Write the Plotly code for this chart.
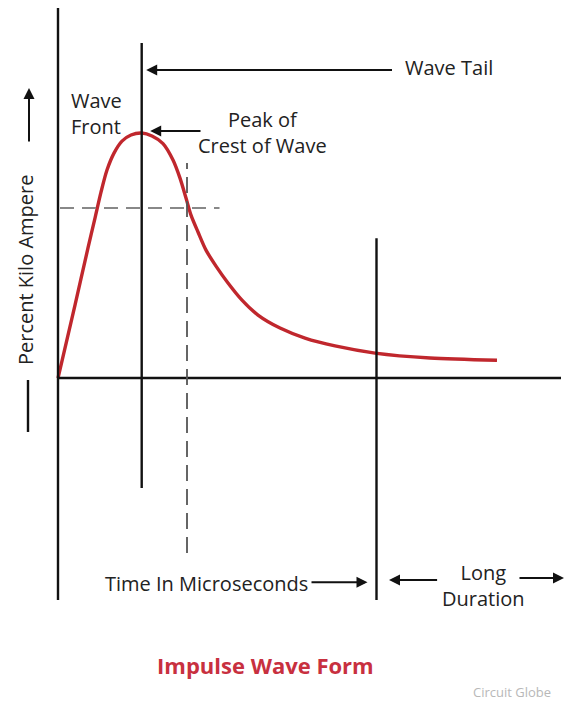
import plotly.graph_objects as go

# Impulse wave: time (arbitrary units) vs percent of peak current
time_pts = [0, 1.7, 3.0, 3.7, 4.3, 4.9, 5.6, 6.4, 7.3, 8.37, 9.4, 10.5, 11.5, 12.2,
            12.8, 13.3, 14.0, 14.8, 15.8, 17.0, 18.4, 20.0, 22.2, 24.7, 27.7, 31.7,
            37.2, 43.9]
percent_pts = [0, 29.8, 53.1, 65.3, 75.9, 84.9, 91.8, 96.7, 99.2, 100, 98.8, 95.7, 89.0,
               81.6, 73.5, 66.5, 59.6, 52.2, 45.7, 38.8, 31.8, 25.7, 20.4, 16.3, 13.1,
               10.2, 8.2, 7.3]

# Reference markers
t_front = 8.37      # wave front / peak time
t_half = 12.9       # dashed line on the tail
t_long = 31.85      # start of long duration
y_half = 69.4       # dashed level

RED = "#c0272d"
INK = "#111111"
FONT = "'Open Sans', Lato, sans-serif"

fig = go.Figure()

fig.add_trace(
    go.Scatter(
        x=time_pts,
        y=percent_pts,
        mode="lines",
        line=dict(color=RED, width=3.4, shape="spline", smoothing=0.8),
        showlegend=False,
        hoverinfo="skip",
    )
)

# axes and guide lines
solid = dict(color=INK, width=2.4)
fig.add_shape(type="line", x0=0, x1=0, y0=-90.6, y1=151.0, line=solid)
fig.add_shape(type="line", x0=0, x1=50.3, y0=0, y1=0, line=solid)
fig.add_shape(type="line", x0=t_front, x1=t_front, y0=-44.9, y1=136.7, line=solid)
fig.add_shape(type="line", x0=t_long, x1=t_long, y0=-90.6, y1=57.1, line=solid)
fig.add_shape(type="line", x0=t_half, x1=t_half, y0=-71.4, y1=87.8,
              line=dict(color="#555555", width=1.8, dash="16px,8px"))
fig.add_shape(type="line", x0=0.2, x1=16.15, y0=y_half, y1=y_half,
              line=dict(color="#888888", width=2, dash="14px,8px"))
fig.add_shape(type="line", x0=-3.0, x1=-3.0, y0=-22.0, y1=-0.8, line=solid)

# arrows: (head x, head y, tail x, tail y)
arrows = [
    (t_front + 0.45, 125.7, 33.55, 125.7),
    (t_front + 0.85, 100.8, 14.4, 100.8),
    (30.95, -83.3, 25.2, -83.3),
    (33.1, -82.4, 38.06, -82.4),
    (50.6, -81.6, 46.0, -81.6),
    (-2.9, 118.4, -2.9, 95.9),
]
for hx, hy, tx, ty in arrows:
    fig.add_annotation(
        x=hx, y=hy, ax=tx, ay=ty, xref="x", yref="y", axref="x", ayref="y",
        text="", showarrow=True, arrowhead=2, arrowsize=1.1, arrowwidth=2,
        arrowcolor=INK,
    )

txt = dict(family=FONT, size=20, color="#222222")
fig.add_annotation(x=34.45, y=126.9, text="Wave Tail", showarrow=False,
                   xanchor="left", font=txt)
fig.add_annotation(x=1.1, y=107.8, text="Wave<br>Front", showarrow=False,
                   xanchor="left", align="left", font=txt)
fig.add_annotation(x=20.4, y=100.2, text="Peak of<br>Crest of Wave", showarrow=False,
                   xanchor="center", align="center", font=txt)
fig.add_annotation(x=25.2, y=-83.7, text="Time In Microseconds", showarrow=False,
                   xanchor="right", font=txt)
fig.add_annotation(x=42.5, y=-84.5, text="Long<br>Duration", showarrow=False,
                   xanchor="center", align="center", font=txt)
fig.add_annotation(x=-3.3, y=44.1, text="Percent Kilo Ampere", showarrow=False,
                   textangle=-90, font=txt)

fig.add_annotation(x=265.5 / 566, y=1 - 682 / 713, xref="paper", yref="paper",
                   text="<b>Impulse Wave Form</b>", showarrow=False,
                   font=dict(family=FONT, size=22, color="#c8303f"))
fig.add_annotation(x=471 / 566, y=1 - 703 / 713, xref="paper", yref="paper",
                   text="Circuit Globe", showarrow=False, xanchor="left",
                   font=dict(family=FONT, size=13, color="#b8b8b8"))

fig.update_layout(
    width=566,
    height=713,
    margin=dict(l=0, r=0, t=0, b=0),
    paper_bgcolor="white",
    plot_bgcolor="white",
    xaxis=dict(range=[-5.8, 50.8], visible=False, fixedrange=True),
    yaxis=dict(range=[-136.7, 154.3], visible=False, fixedrange=True),
)

fig.write_html("out.html", config={"displayModeBar": False},
               post_script="document.body.style.margin='0';")
